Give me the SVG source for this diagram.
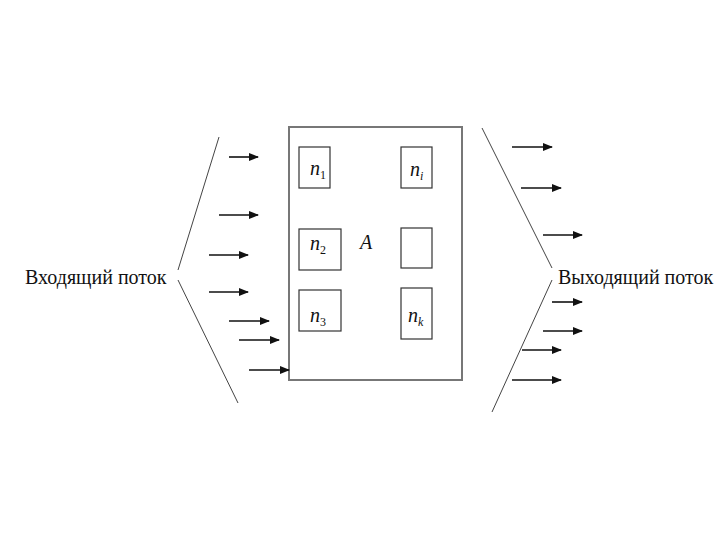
<svg xmlns="http://www.w3.org/2000/svg" width="720" height="540" viewBox="0 0 720 540">
<style>
.ln{stroke:#444;stroke-width:1;fill:none}
.ar{stroke:#111;stroke-width:1.6;fill:none;marker-end:url(#ah)}
.bx{stroke:#333;stroke-width:1.2;fill:#fff}
text{font-family:'Liberation Serif','Times New Roman','DejaVu Serif',serif;fill:#111}
.lbl{font-size:20px}
.var{font-style:italic;font-size:20px}
.sub{font-size:12px}
.num{font-style:normal}
</style>
<defs>
<marker id="ah" markerWidth="10" markerHeight="8" refX="9" refY="4" orient="auto" markerUnits="userSpaceOnUse">
<path d="M0,0 L10,4 L0,8 Z" fill="#111"/>
</marker>
</defs>
<rect width="720" height="540" fill="#fff"/>
<g id="left-boundary">
<line class="ln" x1="219" y1="137" x2="178" y2="270"/>
<line class="ln" x1="178" y1="280" x2="238" y2="403"/>
</g>
<g id="right-boundary">
<line class="ln" x1="482" y1="128" x2="552" y2="268"/>
<line class="ln" x1="552" y1="280" x2="492" y2="412"/>
</g>
<g id="system-A">
<rect x="289" y="127" width="173" height="253" fill="#fff" stroke="#777" stroke-width="2"/>
<text class="var" x="360" y="249">A</text>
</g>
<g id="n1"><rect class="bx" x="299" y="147" width="31" height="41"/><text class="var" x="310" y="175">n<tspan class="sub num" dy="4">1</tspan></text></g>
<g id="ni"><rect class="bx" x="401" y="147" width="31" height="41"/><text class="var" x="410" y="176">n<tspan class="sub" dy="4">i</tspan></text></g>
<g id="n2"><rect class="bx" x="299" y="229" width="42" height="41"/><text class="var" x="310" y="250">n<tspan class="sub num" dy="4">2</tspan></text></g>
<g id="blank"><rect class="bx" x="401" y="228" width="31" height="40"/></g>
<g id="n3"><rect class="bx" x="299" y="290" width="42" height="41"/><text class="var" x="310" y="322">n<tspan class="sub num" dy="4">3</tspan></text></g>
<g id="nk"><rect class="bx" x="401" y="288" width="31" height="51"/><text class="var" x="408" y="322">n<tspan class="sub" dy="4">k</tspan></text></g>
<g id="labels">
<text class="lbl" x="25" y="284">Входящий поток</text>
<text class="lbl" x="558" y="284">Выходящий поток</text>
</g>
<g id="connectors">
<line class="ar" x1="229" y1="157" x2="258" y2="157"/>
<line class="ar" x1="219" y1="215" x2="258" y2="215" stroke-width="2.2"/>
<line class="ar" x1="209" y1="255" x2="248" y2="255"/>
<line class="ar" x1="209" y1="292" x2="248" y2="292"/>
<line class="ar" x1="229" y1="321" x2="269" y2="321"/>
<line class="ar" x1="239" y1="340" x2="279" y2="340"/>
<line class="ar" x1="249" y1="370" x2="289" y2="370"/>
<line class="ar" x1="512" y1="147" x2="552" y2="147"/>
<line class="ar" x1="521" y1="188" x2="561" y2="188"/>
<line class="ar" x1="543" y1="235" x2="582" y2="235"/>
<line class="ar" x1="552" y1="302" x2="582" y2="302" stroke-width="2.2"/>
<line class="ar" x1="543" y1="331" x2="582" y2="331"/>
<line class="ar" x1="522" y1="350" x2="561" y2="350"/>
<line class="ar" x1="512" y1="380" x2="561" y2="380" stroke-width="2.2"/>
</g>
</svg>
